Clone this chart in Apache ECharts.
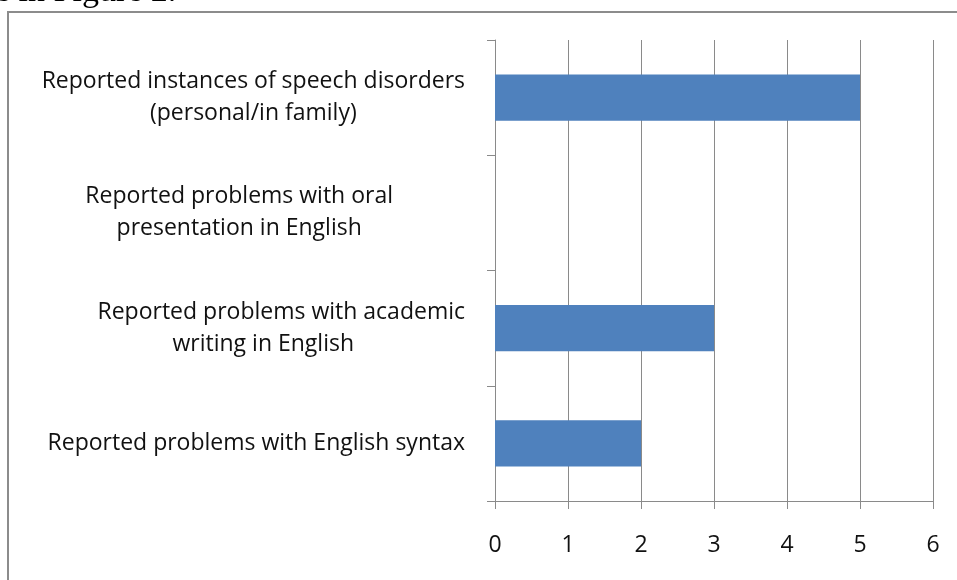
<!DOCTYPE html>
<html>
<head>
<meta charset="utf-8">
<script src="https://cdn.jsdelivr.net/npm/echarts@6/dist/echarts.min.js"></script>
<style>
  html, body { margin: 0; padding: 0; background: #fff; }
  #main { width: 957px; height: 580px; }
</style>
</head>
<body>
<div id="main"></div>
<script type="text/javascript">
    // categories, top to bottom
    var categories = [
        'Reported instances of speech disorders\n(personal/in family)',
        'Reported problems with oral\npresentation in English',
        'Reported problems with academic\nwriting in English',
        'Reported problems with English syntax'
    ];
    var counts = [5, 0, 3, 2];
    var xTicks = [0, 1, 2, 3, 4, 5, 6];

    // right padding per label line (Excel wraps labels unevenly)
    var linePad = [[0, 0], [72, 72], [0, 36], [0]];

    var myChart = echarts.init(document.getElementById('main'));
    var labelFont = '"Open Sans", "Noto Sans", sans-serif';

    var rich = {};
    linePad.forEach(function (pads) {
        pads.forEach(function (p) {
            rich['p' + p] = {
                align: 'center',
                color: '#111',
                fontSize: 23,
                fontFamily: labelFont,
                lineHeight: 32,
                padding: [0, p, 0, 0]
            };
        });
    });

    var option = {
        animation: false,
        backgroundColor: '#fff',
        graphic: [
            {   // frame of the chart box
                type: 'rect',
                shape: { x: 8, y: 12, width: 1000, height: 620 },
                style: { fill: 'none', stroke: '#8c8c8c', lineWidth: 2 }
            },
            {   // cut-off line of the surrounding document
                type: 'text',
                x: -5, y: -7.5,
                style: {
                    text: 'e in Figure 2.',
                    font: '34px "Liberation Serif", "DejaVu Serif", serif',
                    verticalAlign: 'middle',
                    fill: '#000'
                }
            }
        ],
        grid: { left: 495, right: 24, top: 40, bottom: 79, containLabel: false },
        xAxis: {
            type: 'value',
            min: xTicks[0],
            max: xTicks[xTicks.length - 1],
            interval: 1,
            axisLine: { show: true, lineStyle: { color: '#8a8a8a', width: 1 } },
            axisTick: { show: true, length: 8, lineStyle: { color: '#8a8a8a' } },
            splitLine: { show: true, lineStyle: { color: '#8a8a8a', width: 1 } },
            axisLabel: {
                margin: 33,
                color: '#111',
                fontSize: 23,
                fontFamily: labelFont
            }
        },
        yAxis: {
            type: 'category',
            inverse: true,
            data: categories,
            axisLine: { show: true, lineStyle: { color: '#8a8a8a', width: 1 } },
            axisTick: { show: true, length: 8, lineStyle: { color: '#8a8a8a' } },
            axisLabel: {
                margin: 30,
                color: '#111',
                fontSize: 23,
                fontFamily: labelFont,
                lineHeight: 32,
                formatter: function (val, idx) {
                    var pads = linePad[idx] || [];
                    return val.split('\n').map(function (s, i) {
                        return '{p' + (pads[i] || 0) + '|' + s + '}';
                    }).join('\n');
                },
                rich: rich
            }
        },
        series: [{
            type: 'bar',
            data: counts,
            barWidth: '40%',
            itemStyle: { color: '#4f81bd' }
        }]
    };

    myChart.setOption(option);
</script>
</body>
</html>
